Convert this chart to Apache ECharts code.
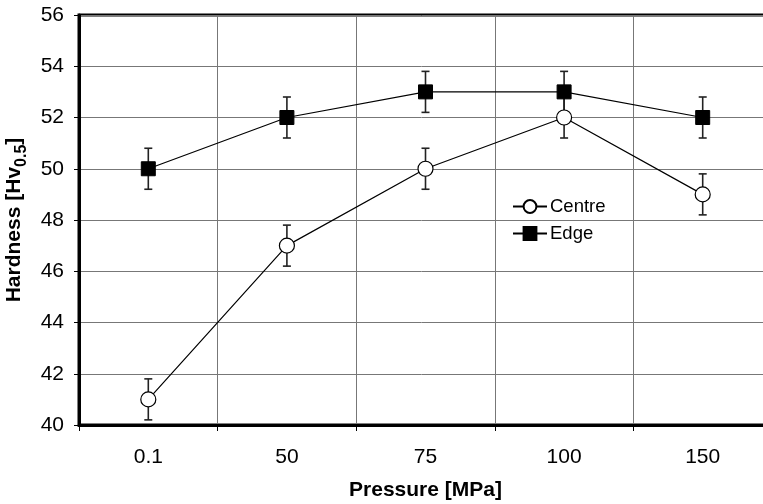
<!DOCTYPE html>
<html><head><meta charset="utf-8">
<script src="https://cdn.jsdelivr.net/npm/echarts@6/dist/echarts.min.js"></script>
<style>html,body{margin:0;padding:0;background:#fff}#c{width:763px;height:504px}</style>
</head><body><div id="c"></div>
<script>
const categories = ['0.1', '50', '75', '100', '150'];
const centre = [41, 47, 50, 52, 49];
const centreErr = [0.8, 0.8, 0.8, 0.8, 0.8];
const edge = [50, 52, 53, 53, 52];
const edgeErr = [0.8, 0.8, 0.8, 0.8, 0.8];
const yTicks = [40, 42, 44, 46, 48, 50, 52, 54, 56];

const FONT = '"Liberation Sans", Arial, sans-serif';

function errData(vals, errs) {
  return vals.map((v, i) => [i, v - errs[i], v + errs[i]]);
}
function renderErr(params, api) {
  const x = api.value(0);
  const lo = api.coord([x, api.value(1)]);
  const hi = api.coord([x, api.value(2)]);
  const cap = 4;
  const st = { stroke: '#222', lineWidth: 1.6 };
  return {
    type: 'group',
    children: [
      { type: 'line', shape: { x1: lo[0], y1: lo[1], x2: hi[0], y2: hi[1] }, style: st },
      { type: 'line', shape: { x1: lo[0] - cap, y1: lo[1], x2: lo[0] + cap, y2: lo[1] }, style: st },
      { type: 'line', shape: { x1: hi[0] - cap, y1: hi[1], x2: hi[0] + cap, y2: hi[1] }, style: st }
    ]
  };
}

const chart = echarts.init(document.getElementById('c'), null, { renderer: 'canvas' });
chart.setOption({
  animation: false,
  backgroundColor: '#fff',
  grid: { left: 79, top: 15, bottom: 79, right: -9, containLabel: false, outerBoundsMode: 'none',
    show: true, borderColor: '#000', borderWidth: 3, backgroundColor: 'transparent' },
  legend: {
    left: 507, top: 192, orient: 'vertical', itemGap: 8, itemWidth: 34, itemHeight: 16,
    textStyle: { fontFamily: FONT, fontSize: 18.5, color: '#000', padding: [0, 0, 0, -2] },
    data: ['Centre', 'Edge']
  },
  xAxis: {
    type: 'category', data: categories, boundaryGap: true,
    name: 'Pressure [MPa]', nameLocation: 'middle', nameGap: 55,
    nameTextStyle: { fontFamily: FONT, fontSize: 21, fontWeight: 'bold', color: '#000' },
    axisLine: { lineStyle: { color: '#000', width: 3 } },
    axisTick: { show: true, alignWithLabel: false, interval: 0, length: 6, lineStyle: { color: '#000', width: 1 } },
    axisLabel: { fontFamily: FONT, fontSize: 21, color: '#000', margin: 22, interval: 0 },
    splitLine: { show: true, interval: 0, lineStyle: { color: '#777', width: 1 } }
  },
  yAxis: {
    type: 'value', min: 40, max: 56, interval: 2,
    name: '{a|Hardness [Hv}{s|0.5}{a|]}', nameLocation: 'middle', nameGap: 43, nameRotate: 90,
    nameTextStyle: {
      rich: {
        a: { fontFamily: FONT, fontSize: 21, fontWeight: 'bold', color: '#000', verticalAlign: 'top', lineHeight: 26 },
        s: { fontFamily: FONT, fontSize: 16, fontWeight: 'bold', color: '#000', verticalAlign: 'bottom', lineHeight: 26, padding: [10, 0, 0, 0] }
      }
    },
    axisLine: { show: true, lineStyle: { color: '#000', width: 3 } },
    axisTick: { show: true, length: 5, lineStyle: { color: '#000' } },
    axisLabel: { fontFamily: FONT, fontSize: 21, color: '#000', margin: 15,
      formatter: v => yTicks.includes(v) ? String(v) : '' },
    splitLine: { show: true, lineStyle: { color: '#777', width: 1 } }
  },
  series: [
    { type: 'custom', name: 'errC', renderItem: renderErr, data: errData(centre, centreErr), z: 1, silent: true },
    { type: 'custom', name: 'errE', renderItem: renderErr, data: errData(edge, edgeErr), z: 1, silent: true },
    {
      type: 'line', name: 'Centre', data: centre, symbol: 'circle', symbolSize: 15, z: 3,
      lineStyle: { color: '#000', width: 1.2 },
      itemStyle: { color: '#fff', borderColor: '#000', borderWidth: 1.2 }
    },
    {
      type: 'line', name: 'Edge', data: edge, symbol: 'rect', symbolSize: 14, z: 3,
      lineStyle: { color: '#000', width: 1.2 },
      itemStyle: { color: '#000', borderColor: '#000', borderWidth: 1 }
    }
  ]
});
</script></body></html>
